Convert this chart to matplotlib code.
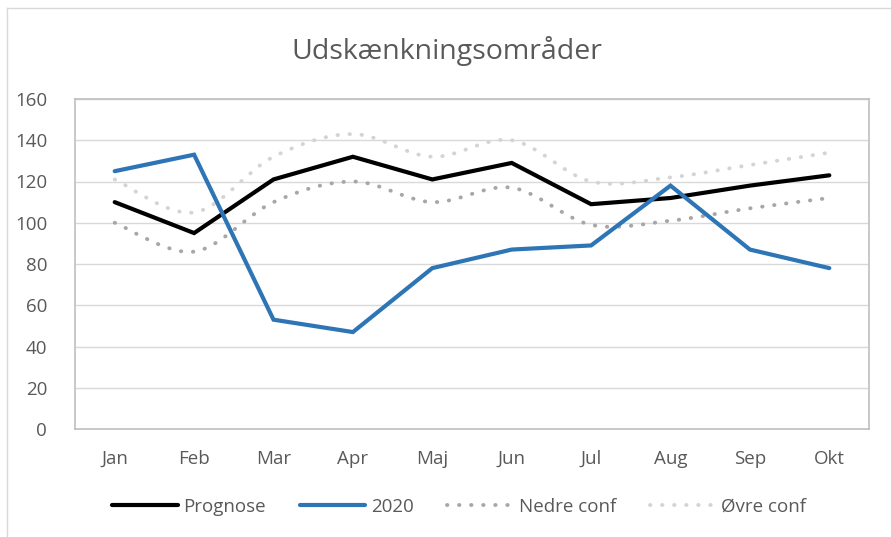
import matplotlib
matplotlib.use("Agg")
import matplotlib.pyplot as plt
from matplotlib.path import Path
from matplotlib.patches import PathPatch
from matplotlib.lines import Line2D
import numpy as np

plt.rcParams['font.family'] = ['Open Sans', 'DejaVu Sans']

months = ["Jan", "Feb", "Mar", "Apr", "Maj", "Jun", "Jul", "Aug", "Sep", "Okt"]
prognose = [110, 95, 121, 132, 121, 129, 109, 112, 118, 123]
y2020 = [125, 133, 53, 47, 78, 87, 89, 118, 87, 78]
nedre = [100, 86, 110, 120, 110, 117, 99, 101, 107, 112]
ovre = [121, 105, 132, 143, 132, 140, 120, 122, 128, 134]
yticks = [0, 20, 40, 60, 80, 100, 120, 140, 160]

text_col = "#595959"
W, H = 891, 537

fig = plt.figure(figsize=(W/100, H/100), dpi=100)
# outer chart border (left and top edges visible)
fig.add_artist(Line2D([7/W, 7/W], [0, 1-8/H], transform=fig.transFigure, color="#d9d9d9", lw=1))
fig.add_artist(Line2D([7/W, 1], [1-8/H, 1-8/H], transform=fig.transFigure, color="#d9d9d9", lw=1))

ax = fig.add_axes([75/W, 1-429/H, (869-75)/W, (429-99)/H])

x = np.arange(len(months))


def smooth_path(xs, ys):
    # Excel-style smoothed line drawn as cubic Bezier segments (Catmull-Rom)
    verts = [(xs[0], ys[0])]
    codes = [Path.MOVETO]
    n = len(xs)
    for i in range(n - 1):
        p0 = (xs[max(i-1, 0)], ys[max(i-1, 0)])
        p1 = (xs[i], ys[i])
        p2 = (xs[i+1], ys[i+1])
        p3 = (xs[min(i+2, n-1)], ys[min(i+2, n-1)])
        c1 = (p1[0] + (p2[0]-p0[0])/6, p1[1] + (p2[1]-p0[1])/6)
        c2 = (p2[0] - (p3[0]-p1[0])/6, p2[1] - (p3[1]-p1[1])/6)
        verts += [c1, c2, p2]
        codes += [Path.CURVE4]*3
    return Path(verts, codes)


dot_style = (0, (0.1, 3.0))
for data, col in [(ovre, "#d4d4d4"), (nedre, "#aaa6a6")]:
    patch = PathPatch(smooth_path(x, data), facecolor="none", edgecolor=col,
                      lw=2.8, linestyle=dot_style, capstyle="round", zorder=3)
    ax.add_patch(patch)

ax.plot(x, prognose, color="black", lw=3.0, solid_capstyle="round", solid_joinstyle="miter", zorder=4)
ax.plot(x, y2020, color="#2e75b6", lw=3.0, solid_capstyle="round", solid_joinstyle="miter", zorder=5)

ax.set_xlim(-0.5, len(months)-0.5)
ax.set_ylim(0, 160)
ax.set_yticks(yticks)
ax.set_xticks(x)
ax.set_xticklabels(months)
ax.grid(axis="y", color="#d9d9d9", lw=1)
ax.set_axisbelow(True)
for s in ["top", "right", "left", "bottom"]:
    ax.spines[s].set_color("#bfbfbf")
    ax.spines[s].set_linewidth(1.2)
ax.tick_params(axis="both", length=0, labelsize=13.5, colors=text_col)
ax.tick_params(axis="y", pad=20)
ax.tick_params(axis="x", pad=15)

fig.text(0.5 + 1/W, 1-51/H, "Udskænkningsområder", ha="center", va="center",
         fontsize=20.5, color=text_col)

handles = [
    Line2D([], [], color="black", lw=3.0, solid_capstyle="round"),
    Line2D([], [], color="#2e75b6", lw=3.0, solid_capstyle="round"),
    Line2D([], [], color="#aaa6a6", lw=2.8, linestyle=dot_style, dash_capstyle="round"),
    Line2D([], [], color="#d4d4d4", lw=2.8, linestyle=dot_style, dash_capstyle="round"),
]
labels = ["Prognose", "2020", "Nedre conf", "Øvre conf"]
fig.legend(handles, labels, loc="center", bbox_to_anchor=(459/W, 1-507/H), ncol=4,
           frameon=False, fontsize=13.5, labelcolor=text_col, handlelength=3.5,
           handletextpad=0.3, columnspacing=1.8)

fig.savefig("out.png", dpi=100)
